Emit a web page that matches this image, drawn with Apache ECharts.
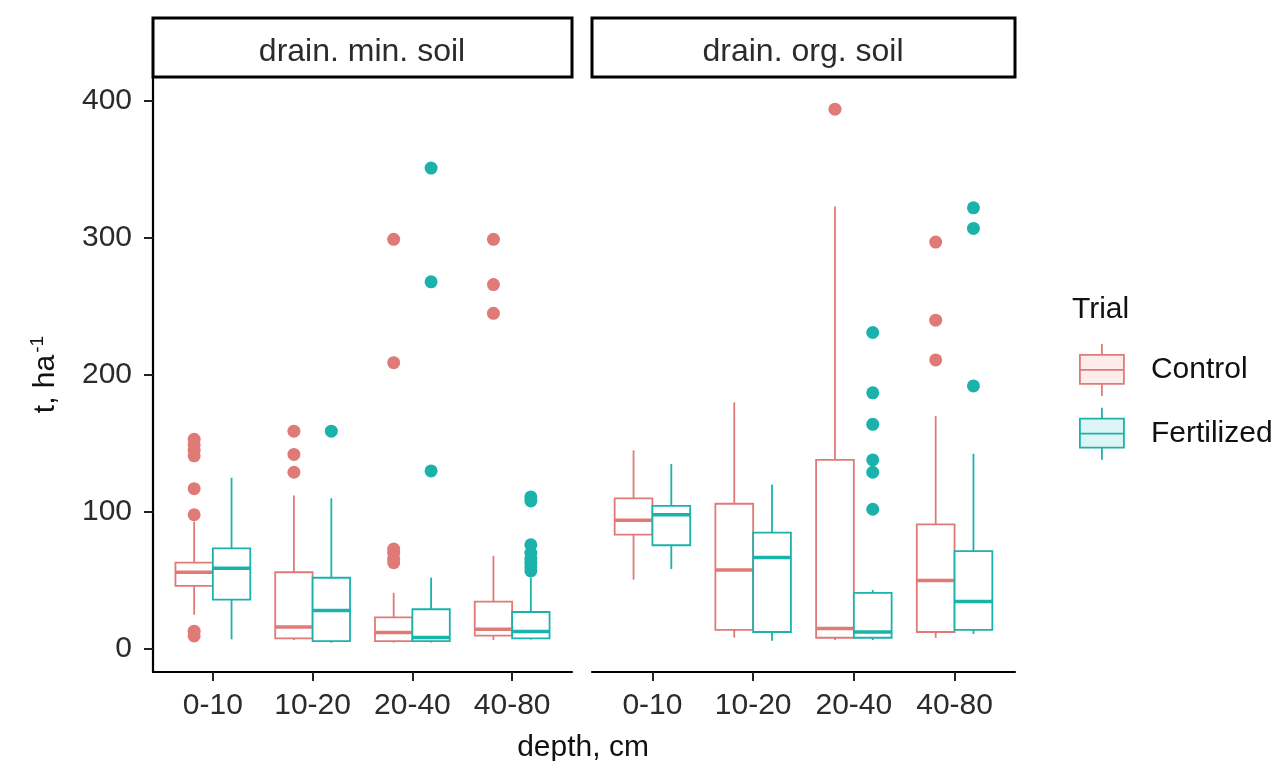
<!DOCTYPE html>
<html>
<head>
<meta charset="utf-8">
<title>Soil boxplots</title>
<script src="https://cdn.jsdelivr.net/npm/echarts@6/dist/echarts.min.js"></script>
<style>
  html, body { margin: 0; padding: 0; background: #fff; }
  #chart { width: 1276px; height: 761px; }
</style>
</head>
<body>
<div id="chart"></div>
<script>
// depth classes (x categories)
const depths = ["0-10", "10-20", "20-40", "40-80"]
const panels = ["drain. min. soil", "drain. org. soil"]
const trials = ["Control", "Fertilized"]
const yTicks = [0, 100, 200, 300, 400]

// box stats per depth: [lower whisker, q1, median, q3, upper whisker]
const minControl = [
	[25, 46, 56, 63, 93],
	[6.6, 7.8, 16, 56, 112],
	[4.6, 5.8, 12, 23, 41],
	[6.6, 9.7, 14.4, 34.5, 68],
]
const minFertilized = [
	[7, 36, 59, 73.5, 125],
	[4.6, 5.8, 28, 52, 110],
	[4.8, 5.8, 8.3, 29, 52],
	[7, 7.8, 12.7, 27, 52],
]
const orgControl = [
	[50.6, 83.5, 94, 110, 145],
	[8.3, 13.9, 57.6, 106, 180],
	[6.5, 8.2, 15, 138, 323],
	[8.2, 12.4, 50, 91, 170],
]
const orgFertilized = [
	[58.4, 75.7, 98, 104.4, 135],
	[6, 12.4, 66.8, 85, 120],
	[6.5, 8.2, 12.4, 41, 43],
	[11, 13.9, 34.7, 71.5, 142.5],
]

// outliers: [depth index, value]
const minControlOut = [
	[0, 9.5], [0, 13], [0, 98], [0, 117], [0, 141], [0, 145], [0, 149], [0, 153],
	[1, 129], [1, 142], [1, 159],
	[2, 63], [2, 66], [2, 70], [2, 73], [2, 209], [2, 299],
	[3, 245], [3, 266], [3, 299],
]
const minFertilizedOut = [
	[1, 159],
	[2, 130], [2, 268], [2, 351],
	[3, 57], [3, 60], [3, 63], [3, 66], [3, 70], [3, 76], [3, 108], [3, 111],
]
const orgControlOut = [[2, 394], [3, 211], [3, 240], [3, 297]]
const orgFertilizedOut = [
	[2, 102], [2, 129], [2, 138], [2, 164], [2, 187], [2, 231],
	[3, 192], [3, 307], [3, 322],
]

const colors = ["#e07a76", "#1bb2ac"]
const keyFill = ["#fdeceb", "#ddf6f5"]
const BOX_W = 0.375 // ggplot dodge: two boxes of 0.375 share 0.75
const textColor = "#2b2b2b"
const FONT = "Liberation Sans, Arial, sans-serif"
const FS = 30

function boxRender(offset) {
	return function (params, api) {
		let x = api.value(0) + offset
		let lo = api.coord([x, api.value(1)])
		let q1 = api.coord([x, api.value(2)])
		let md = api.coord([x, api.value(3)])
		let q3 = api.coord([x, api.value(4)])
		let hi = api.coord([x, api.value(5)])
		let w = api.size([BOX_W, 0])[0]
		let c = api.visual("color")
		let line = { stroke: c, lineWidth: 1.8 }
		return {
			type: "group",
			children: [
				{ type: "line", shape: { x1: lo[0], y1: lo[1], x2: q1[0], y2: q1[1] }, style: line },
				{ type: "line", shape: { x1: q3[0], y1: q3[1], x2: hi[0], y2: hi[1] }, style: line },
				{
					type: "rect",
					shape: { x: q3[0] - w / 2, y: q3[1], width: w, height: q1[1] - q3[1] },
					style: { fill: "#fff", stroke: c, lineWidth: 1.8 },
				},
				{
					type: "line",
					shape: { x1: md[0] - w / 2, y1: md[1], x2: md[0] + w / 2, y2: md[1] },
					style: { stroke: c, lineWidth: 3.5 },
				},
			],
		}
	}
}

function boxSeries(name, stats, gridIdx, k) {
	return {
		name: name,
		type: "custom",
		xAxisIndex: gridIdx,
		yAxisIndex: gridIdx,
		itemStyle: { color: colors[k] },
		renderItem: boxRender(k === 0 ? -BOX_W / 2 : BOX_W / 2),
		encode: { x: 0, y: [1, 2, 3, 4, 5] },
		data: stats.map((s, i) => [i].concat(s)),
		z: 2,
	}
}

function outSeries(name, pts, gridIdx, k) {
	let off = k === 0 ? -BOX_W / 2 : BOX_W / 2
	return {
		name: name,
		type: "scatter",
		xAxisIndex: gridIdx,
		yAxisIndex: gridIdx,
		symbolSize: 13,
		itemStyle: { color: colors[k], opacity: 1 },
		data: pts.map((p) => [p[0] + off, p[1]]),
		z: 3,
	}
}

function xAxis(gridIdx) {
	return {
		type: "value",
		gridIndex: gridIdx,
		min: -0.6,
		max: 3.6,
		splitLine: { show: false },
		axisLine: { show: true, onZero: false, lineStyle: { color: "#000", width: 2.2 } },
		axisTick: { show: true, length: 9, customValues: [0, 1, 2, 3], lineStyle: { color: "#222", width: 2 } },
		axisLabel: {
			customValues: [0, 1, 2, 3],
			formatter: (v) => depths[Math.round(v)],
			fontSize: FS,
			fontFamily: FONT,
			color: textColor,
			margin: 19,
		},
	}
}

function yAxis(gridIdx, show) {
	return {
		type: "value",
		gridIndex: gridIdx,
		min: -16.8,
		max: 417.5,
		splitLine: { show: false },
		axisLine: { show: show, onZero: false, lineStyle: { color: "#000", width: 2.2 } },
		axisTick: { show: show, length: 9, customValues: yTicks, lineStyle: { color: "#222", width: 2 } },
		axisLabel: {
			show: show,
			customValues: yTicks,
			fontSize: FS,
			fontFamily: FONT,
			color: textColor,
			margin: 21,
		},
		name: show ? "t, ha{sup|-1}" : "",
		nameLocation: "middle",
		nameRotate: 90,
		nameGap: 90,
		nameTextStyle: {
			fontSize: 30,
			fontFamily: FONT,
			color: "#111",
			rich: { sup: { fontSize: 19, fontFamily: FONT, color: "#111", padding: [0, 0, 16, 2] } },
		},
	}
}

const boxIcon = "path://M22,0 L22,11 M0,11 L44,11 L44,40 L0,40 Z M0,26 L44,26 M22,40 L22,52"

let myChart = echarts.init(document.getElementById("chart"))
let option = {
	backgroundColor: "#fff",
	animation: false,
	title: {
		text: "Trial",
		left: 1072,
		top: 295,
		padding: 0,
		textStyle: { fontSize: FS, fontWeight: "normal", fontFamily: FONT, color: "#111" },
	},
	legend: {
		orient: "vertical",
		left: 1079,
		top: 343,
		padding: 0,
		itemWidth: 44,
		itemHeight: 52,
		itemGap: 10,
		textStyle: { fontSize: FS, fontFamily: FONT, color: "#111", padding: [0, 0, 0, 22] },
		data: trials.map((t, k) => ({
			name: t,
			icon: boxIcon,
			itemStyle: { color: keyFill[k], borderColor: colors[k], borderWidth: 1.8 },
		})),
	},
	grid: [
		{ left: 153, top: 77, width: 419, height: 595 },
		{ left: 592, top: 77, width: 423, height: 595 },
	],
	xAxis: [xAxis(0), xAxis(1)],
	yAxis: [yAxis(0, true), yAxis(1, false)],
	// facet strips + x axis title
	graphic: [
		{ type: "rect", shape: { x: 153, y: 18, width: 419, height: 59 }, style: { fill: "#fff", stroke: "#000", lineWidth: 3 } },
		{ type: "text", x: 362, y: 52, style: { text: panels[0], align: "center", verticalAlign: "middle", fontSize: 32, fontFamily: FONT, fill: "#2b2b2b" } },
		{ type: "rect", shape: { x: 592, y: 18, width: 423, height: 59 }, style: { fill: "#fff", stroke: "#000", lineWidth: 3 } },
		{ type: "text", x: 803, y: 52, style: { text: panels[1], align: "center", verticalAlign: "middle", fontSize: 32, fontFamily: FONT, fill: "#2b2b2b" } },
		{ type: "text", x: 583, y: 748, style: { text: "depth, cm", align: "center", verticalAlign: "middle", fontSize: FS, fontFamily: FONT, fill: "#111" } },
	],
	series: [
		boxSeries("Control", minControl, 0, 0),
		boxSeries("Fertilized", minFertilized, 0, 1),
		boxSeries("Control", orgControl, 1, 0),
		boxSeries("Fertilized", orgFertilized, 1, 1),
		outSeries("Control", minControlOut, 0, 0),
		outSeries("Fertilized", minFertilizedOut, 0, 1),
		outSeries("Control", orgControlOut, 1, 0),
		outSeries("Fertilized", orgFertilizedOut, 1, 1),
	],
}
myChart.setOption(option)
</script>
</body>
</html>
